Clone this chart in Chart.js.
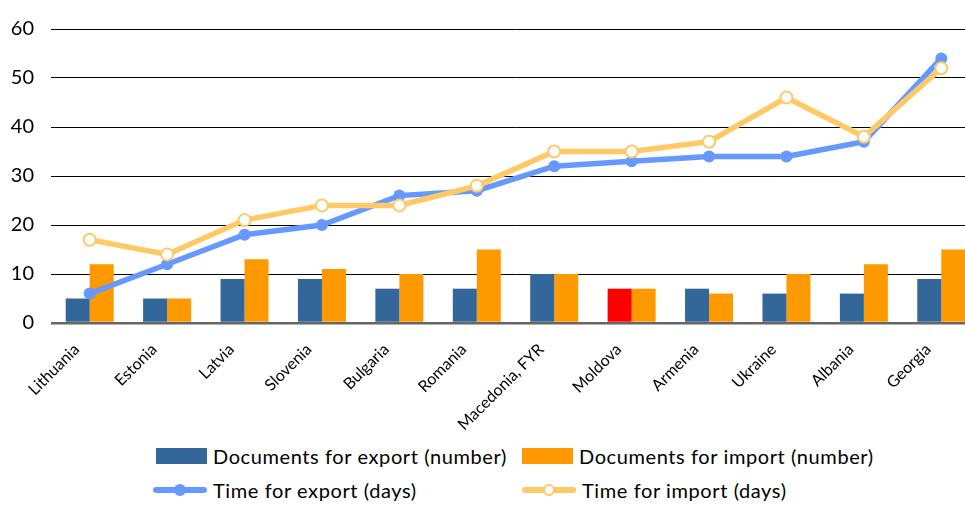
<!DOCTYPE html>
<html>
<head>
<meta charset="utf-8">
<script src="https://cdn.jsdelivr.net/npm/chart.js@4/dist/chart.umd.min.js"></script>
<style>
  html, body { margin: 0; padding: 0; background: #fff; overflow: hidden; }
  #wrap { position: relative; width: 965px; height: 505px; overflow: hidden; }
  #chart { position: absolute; left: 0; top: 0; }
  .leyenda { position: absolute; font-family: Lato, sans-serif; font-size: 20px; letter-spacing: 0.6px; color: #000; white-space: nowrap; }
  .leyenda .item { position: absolute; display: flex; align-items: center; height: 30px; }
  .leyenda .marca { width: 51px; height: 16px; margin-right: 6px; position: relative; }
</style>
</head>
<body>
<div id="wrap">
  <canvas id="chart" width="988" height="440"></canvas>
  <div class="leyenda" id="leyenda"></div>
</div>
<script>
// Datos
const paises = ['Lithuania', 'Estonia', 'Latvia', 'Slovenia', 'Bulgaria', 'Romania',
  'Macedonia, FYR', 'Moldova', 'Armenia', 'Ukraine', 'Albania', 'Georgia'];
const docsExport = [5, 5, 9, 9, 7, 7, 10, 7, 7, 6, 6, 9];
const docsImport = [12, 5, 13, 11, 10, 15, 10, 7, 6, 10, 12, 15];
const tiempoExport = [6, 12, 18, 20, 26, 27, 32, 33, 34, 34, 37, 54];
const tiempoImport = [17, 14, 21, 24, 24, 28, 35, 35, 37, 46, 38, 52];
const ticksY = [0, 10, 20, 30, 40, 50, 60];

const azul = '#336699';
const naranja = '#FF9900';
const azulLinea = '#6699FF';
const amarilloLinea = '#FFC966';

// Moldova resaltada en rojo
const coloresExport = paises.map(p => p === 'Moldova' ? '#FF0000' : azul);

const ctx = document.getElementById('chart').getContext('2d');
const grafica = new Chart(ctx, {
  type: 'bar',
  data: {
    labels: paises,
    datasets: [
      {
        label: 'Documents for export (number)',
        data: docsExport,
        backgroundColor: coloresExport,
        legendColor: azul,
        order: 2
      },
      {
        label: 'Documents for import (number)',
        data: docsImport,
        backgroundColor: naranja,
        legendColor: naranja,
        order: 2
      },
      {
        type: 'line',
        label: 'Time for export (days)',
        data: tiempoExport,
        borderColor: azulLinea,
        backgroundColor: azulLinea,
        borderWidth: 5.5,
        pointRadius: 6,
        pointBackgroundColor: azulLinea,
        pointBorderColor: azulLinea,
        pointBorderWidth: 0,
        tension: 0,
        legendColor: azulLinea,
        order: 1
      },
      {
        type: 'line',
        label: 'Time for import (days)',
        data: tiempoImport,
        borderColor: amarilloLinea,
        backgroundColor: amarilloLinea,
        borderWidth: 5.5,
        pointRadius: 6,
        pointBackgroundColor: '#FFFFFF',
        pointBorderColor: amarilloLinea,
        pointBorderWidth: 2,
        tension: 0,
        legendColor: amarilloLinea,
        hollow: true,
        order: 0
      }
    ]
  },
  options: {
    responsive: false,
    animation: false,
    layout: { padding: { top: 21, right: 0, left: 0, bottom: 0 } },
    datasets: {
      bar: { categoryPercentage: 0.62, barPercentage: 1.0 }
    },
    plugins: {
      legend: { display: false },
      tooltip: { enabled: false }
    },
    scales: {
      x: {
        grid: { display: false },
        border: { display: false },
        ticks: {
          font: { family: 'Lato', size: 16 },
          color: '#000',
          maxRotation: 45,
          minRotation: 45,
          padding: 9,
          labelOffset: -13,
          autoSkip: false
        },
        afterFit: s => { s.height = 117; }
      },
      y: {
        min: 0,
        max: 60,
        afterBuildTicks: s => { s.ticks = ticksY.map(v => ({ value: v })); },
        border: { display: false },
        grid: {
          drawTicks: false,
          color: c => c.tick.value === 0 ? '#666666' : '#000000',
          lineWidth: c => c.tick.value === 0 ? 2.5 : 1
        },
        ticks: {
          font: { family: 'Lato', size: 20 },
          color: '#000',
          padding: 17
        },
        afterFit: s => { s.width = 51; }
      }
    }
  }
});

// Leyenda en dos columnas, construida desde los datasets
function crearLeyenda(chart) {
  const cont = document.getElementById('leyenda');
  cont.innerHTML = '';
  const posiciones = [[156, 441], [522, 441], [153, 475], [522, 475]];
  chart.data.datasets.forEach((ds, i) => {
    const item = document.createElement('div');
    item.className = 'item';
    item.style.left = posiciones[i][0] + 'px';
    item.style.top = posiciones[i][1] + 'px';
    const marca = document.createElement('div');
    marca.className = 'marca';
    if (ds.type === 'line') {
      marca.style.width = '54px';
      marca.innerHTML = `
        <div style="position:absolute;left:0;right:0;top:5px;height:6px;border-radius:3px;background:${ds.legendColor}"></div>
        <div style="position:absolute;left:21px;top:2px;width:${ds.hollow ? 8 : 12}px;height:${ds.hollow ? 8 : 12}px;border-radius:50%;
          background:${ds.hollow ? '#fff' : ds.legendColor};border:${ds.hollow ? '2px solid ' + ds.legendColor : 'none'}"></div>`;
    } else {
      marca.style.background = ds.legendColor;
    }
    const texto = document.createElement('span');
    texto.textContent = ds.label;
    item.appendChild(marca);
    item.appendChild(texto);
    cont.appendChild(item);
  });
}
crearLeyenda(grafica);
</script>
</body>
</html>
